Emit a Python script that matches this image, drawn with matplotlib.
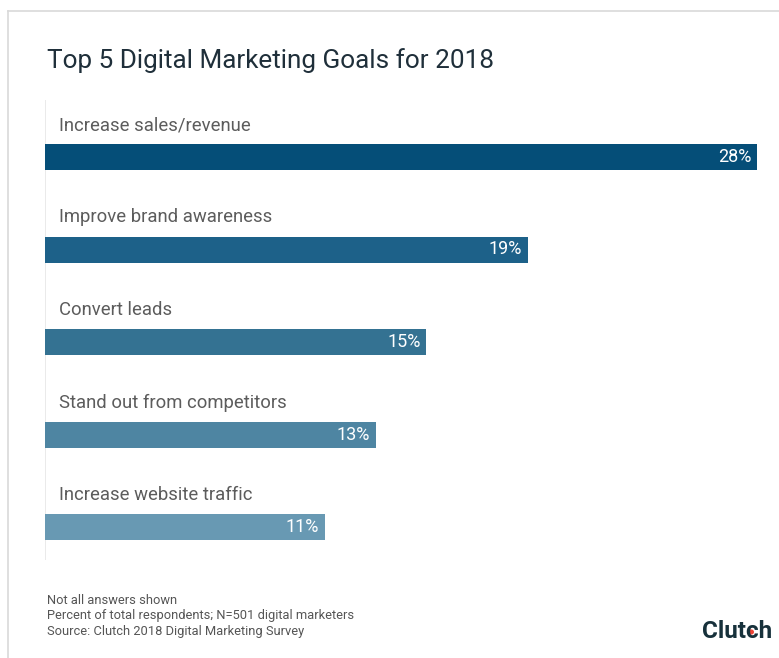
import matplotlib
matplotlib.use("Agg")
import matplotlib.pyplot as plt
from matplotlib.lines import Line2D
from matplotlib.patches import Circle

plt.rcParams['font.family'] = ['Roboto', 'DejaVu Sans']

title = "Top 5 Digital Marketing Goals for 2018"
goals = ["Increase sales/revenue", "Improve brand awareness", "Convert leads",
         "Stand out from competitors", "Increase website traffic"]
shares = [28, 19, 15, 13, 11]
bar_colors = ["#054e78", "#1d6189", "#347292", "#4e85a2", "#6899b3"]
notes = ["Not all answers shown",
         "Percent of total respondents; N=501 digital marketers",
         "Source: Clutch 2018 Digital Marketing Survey"]

W, H = 779, 658
fig = plt.figure(figsize=(W / 100, H / 100), dpi=100)
fig.patch.set_facecolor("white")

def fx(px):
    return px / W

def fy(py):
    return 1 - py / H

# outer card border (top and left edges)
fig.add_artist(Line2D([fx(7.5), 1], [fy(10.5), fy(10.5)], color="#d9d9d9", lw=1.2))
fig.add_artist(Line2D([fx(7.5), fx(7.5)], [fy(10.5), 0], color="#d9d9d9", lw=1.2))

# plot area: 1 percentage point = 25.43 px, rows 92.5 px apart
px_per_pct = 25.43
row_gap = 92.5
top_px, bot_px = 100, 560
first_center = 157
ax = fig.add_axes([fx(45), fy(bot_px), fx(W - 45), (bot_px - top_px) / H])
ax.set_xlim(0, (W - 45) / px_per_pct)
y_top = (top_px - first_center) / row_gap
y_bot = (bot_px - first_center) / row_gap
ax.set_ylim(y_bot, y_top)
ax.axis("off")

ax.axvline(0, color="#e6e6e6", lw=1.2, zorder=0)

ypos = list(range(len(goals)))
bar_h = 26 / row_gap
ax.barh(ypos, shares, height=bar_h, color=bar_colors, edgecolor="none", zorder=2)

lab_dy = 32 / row_gap
for y, name, v in zip(ypos, goals, shares):
    ax.text(14 / px_per_pct, y - lab_dy, name, ha="left", va="center",
            fontsize=13.3, color="#5c5c5c")
    ax.text(v - 6 / px_per_pct, y, f"{v}%", ha="right", va="center",
            fontsize=13, color="white", zorder=3)

fig.text(fx(47), fy(61), title, ha="left", va="center", fontsize=18.8,
         color="#1f2f3a")

for i, line in enumerate(notes):
    fig.text(fx(47), fy(600 + 15.5 * i), line, ha="left", va="center",
             fontsize=9.3, color="#555555")

fig.text(fx(772), fy(631), "Clutch", ha="right", va="center", fontsize=17.5,
         fontweight="bold", color="#17313b")
fig.add_artist(Circle((fx(751), fy(632)), 2.3 / W, color="#ef4335",
                      transform=fig.transFigure))

fig.savefig("out.png", dpi=100)
